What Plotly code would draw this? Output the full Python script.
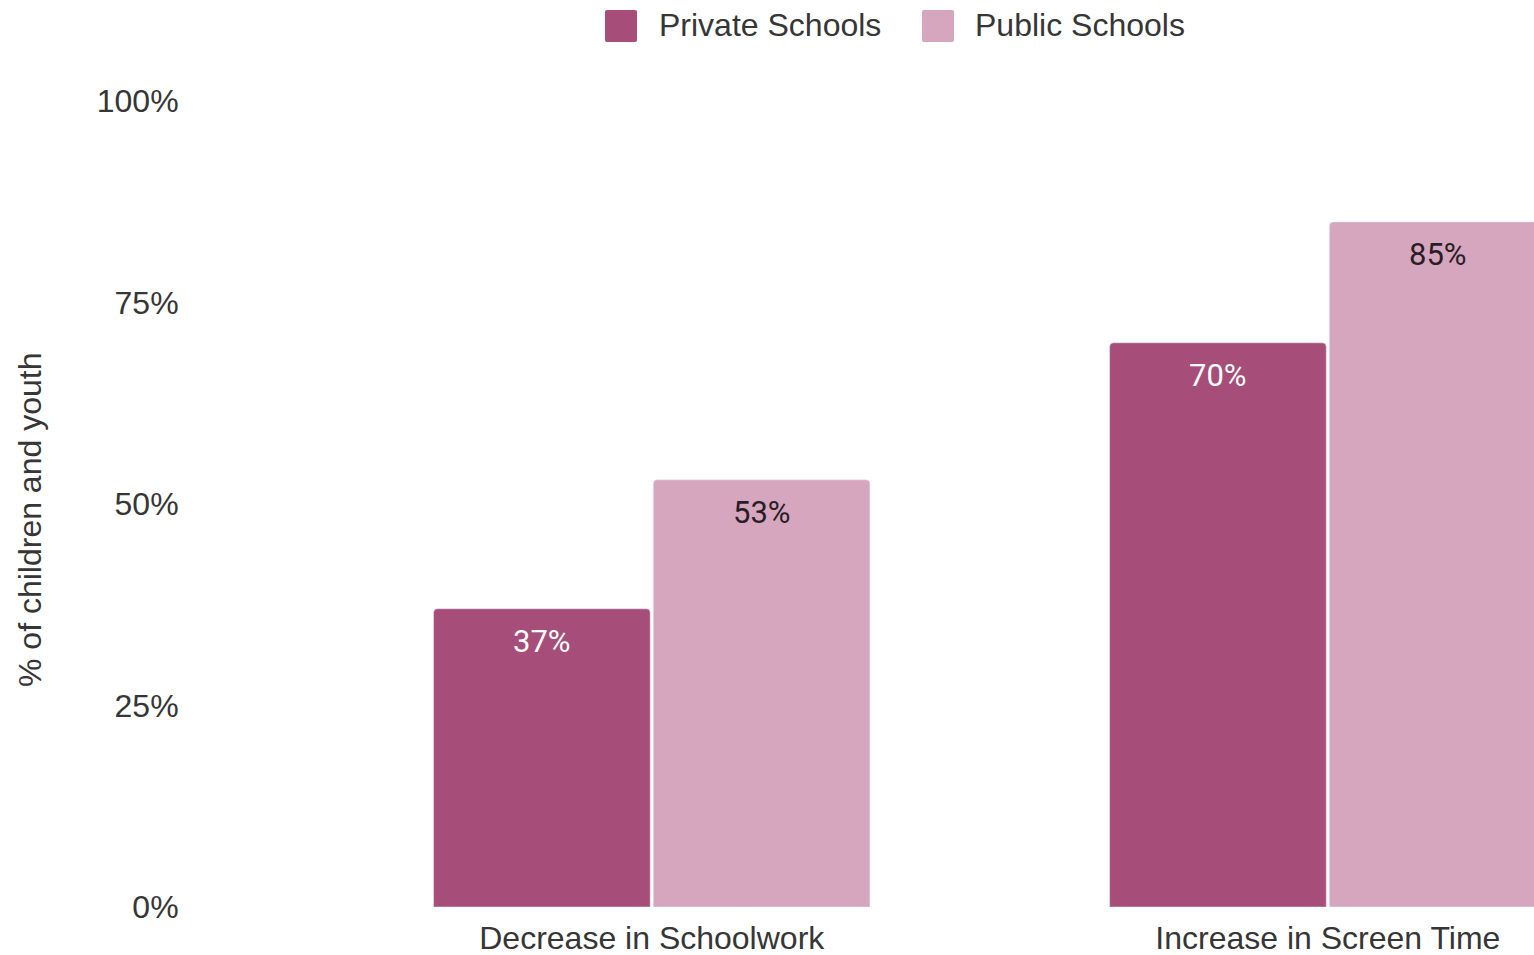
import plotly.graph_objects as go

# Survey results: share of children and youth reporting each change
categories = ["Decrease in Schoolwork", "Increase in Screen Time"]
private_schools = [37, 70]
public_schools = [53, 85]
series_names = ["Private Schools", "Public Schools"]
y_ticks = [0, 25, 50, 75, 100]
y_tick_labels = ["0%", "25%", "50%", "75%", "100%"]

PRIVATE_COLOR = "#a64d79"
PUBLIC_COLOR = "#d5a6bd"
AXIS_FONT = "Arial, 'Liberation Sans', sans-serif"
LABEL_FONT = "Roboto, Arial, sans-serif"
TEXT_COLOR = "#363636"

W, H = 1534, 955
M_L, M_R, M_T, M_B = 190, 0, 101, 48
BARGAP = 0.35
GROUPGAP = 0.014

fig = go.Figure()
fig.add_trace(go.Bar(name=series_names[0], x=categories, y=private_schools,
                     marker_color=PRIVATE_COLOR, showlegend=False))
fig.add_trace(go.Bar(name=series_names[1], x=categories, y=public_schools,
                     marker_color=PUBLIC_COLOR, showlegend=False))

# value labels just inside the top of each bar
half_slot = (1 - BARGAP) / 4
for vals, side, col in [(private_schools, -1, "#ffffff"), (public_schools, 1, "#2a1d26")]:
    for i, v in enumerate(vals):
        fig.add_annotation(x=i + side * half_slot, y=v, text=f"{v}%",
                           showarrow=False, yanchor="middle", yshift=-33,
                           font=dict(family=LABEL_FONT, size=31, color=col))

plot_w = W - M_L - M_R
plot_h = H - M_T - M_B


def px_x(px):
    return (px - M_L) / plot_w


def px_y(py):
    return (H - M_B - py) / plot_h


# y-axis title
fig.add_annotation(xref="paper", yref="paper", x=px_x(30), y=px_y(520),
                   text="% of children and youth", textangle=-90, showarrow=False,
                   xanchor="center", yanchor="middle",
                   font=dict(family=AXIS_FONT, size=32, color=TEXT_COLOR))

# legend with large rounded swatches
swatch = "M2,-16 L14,-16 Q16,-16 16,-14 L16,14 Q16,16 14,16 L-14,16 Q-16,16 -16,14 L-16,-14 Q-16,-16 -14,-16 Z"
for name, color, sx, tx in [(series_names[0], PRIVATE_COLOR, 621, 657),
                            (series_names[1], PUBLIC_COLOR, 938, 973)]:
    fig.add_shape(type="path", xref="paper", yref="paper",
                  xsizemode="pixel", ysizemode="pixel",
                  xanchor=px_x(sx), yanchor=px_y(26), path=swatch,
                  fillcolor=color, line=dict(width=0))
    fig.add_annotation(xref="paper", yref="paper", x=px_x(tx), y=px_y(25),
                       text=name, showarrow=False, xanchor="left", yanchor="middle",
                       font=dict(family=AXIS_FONT, size=32, color=TEXT_COLOR))

fig.update_layout(
    width=W, height=H,
    margin=dict(l=M_L, r=M_R, t=M_T, b=M_B, pad=0, autoexpand=False),
    paper_bgcolor="white", plot_bgcolor="white",
    barmode="group", bargap=BARGAP, bargroupgap=GROUPGAP,
    barcornerradius=4,
    showlegend=False,
    xaxis=dict(type="category", range=[-0.683, 1.305], showgrid=False,
               showline=False, zeroline=False, ticks="outside", ticklen=3,
               tickcolor="rgba(0,0,0,0)", automargin=False,
               tickfont=dict(family=AXIS_FONT, size=32, color=TEXT_COLOR)),
    yaxis=dict(range=[0, 100], tickvals=y_ticks, ticktext=y_tick_labels,
               showgrid=False, showline=False, zeroline=False,
               ticks="outside", ticklen=4, tickcolor="rgba(0,0,0,0)",
               automargin=False,
               tickfont=dict(family=AXIS_FONT, size=32, color=TEXT_COLOR)),
)

fig.write_html("out.html")
